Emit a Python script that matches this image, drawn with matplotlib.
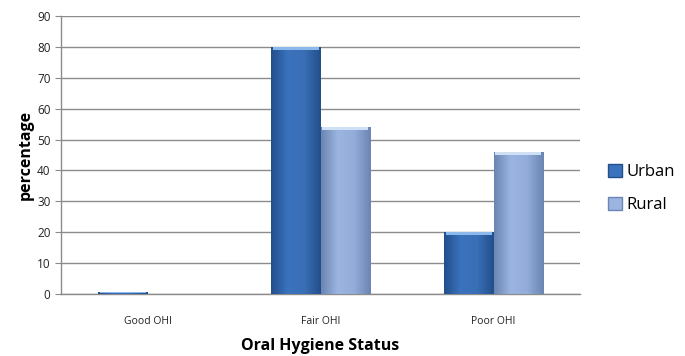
import numpy as np
import matplotlib.pyplot as plt
from matplotlib.colors import LinearSegmentedColormap
from matplotlib.patches import Patch

plt.rcParams['font.family'] = ['Open Sans', 'DejaVu Sans']

categories = ['Good OHI', 'Fair OHI', 'Poor OHI']
series = ['Urban', 'Rural']
urban = [0.8, 80, 20]
rural = [0, 54, 46]

bar_w = 0.285
x = np.arange(len(categories))

# edge-dark / centre-light shading for the bevelled bar look
shades = {
    'Urban': ['#234f8c', '#3a72bd', '#3a6fb6', '#234f8c'],
    'Rural': ['#6c86b3', '#9bb4e0', '#93acd9', '#6c86b3'],
}
top_col = {'Urban': '#8db8ec', 'Rural': '#cfdff4'}
base_col = {'Urban': '#2f62a6', 'Rural': '#8aa5d6'}

fig = plt.figure(figsize=(6.85, 3.56), dpi=100)
ax = fig.add_axes([0.089, 0.174, 0.758, 0.781])

ax.set_xlim(-0.5, 2.5)
ax.set_ylim(0, 90)
ax.set_yticks(range(0, 91, 10))
ax.yaxis.grid(True, color='#8c8c8c', linewidth=1.0)
ax.set_axisbelow(True)

for name, vals, off in [('Urban', urban, -bar_w / 2), ('Rural', rural, bar_w / 2)]:
    bars = ax.bar(x + off, vals, bar_w, color=base_col[name], linewidth=0, zorder=2)
    cmap = LinearSegmentedColormap.from_list(name, shades[name])
    grad = np.linspace(0, 1, 64).reshape(1, -1)
    for b in bars:
        h = b.get_height()
        if h <= 0:
            continue
        x0 = b.get_x()
        im = ax.imshow(grad, cmap=cmap, aspect='auto', zorder=3,
                       extent=[x0, x0 + bar_w, 0, h], interpolation='bicubic')
        im.set_clip_path(b)
        cap = min(1.0, h * 0.5)
        ax.add_patch(plt.Rectangle((x0 + 0.01, h - cap), bar_w - 0.02, cap,
                                   color=top_col[name], linewidth=0, zorder=4))

ax.set_xticks(x)
ax.set_xticklabels(categories, fontsize=7.5, color='#222222')
ax.tick_params(axis='x', length=0, pad=16)
ax.tick_params(axis='y', labelsize=8.5, length=4, color='#8c8c8c', labelcolor='#222222')

for s in ['top', 'right']:
    ax.spines[s].set_visible(False)
for s in ['left', 'bottom']:
    ax.spines[s].set_color('#8c8c8c')
    ax.spines[s].set_linewidth(1.0)

ax.set_ylabel('percentage', fontsize=11.5, fontweight='bold', labelpad=2)
ax.set_xlabel('Oral Hygiene Status', fontsize=11.5, fontweight='bold', labelpad=8)

handles = [Patch(facecolor=shades[s][1], edgecolor=shades[s][0]) for s in series]
fig.legend(handles, series, loc='center left', bbox_to_anchor=(0.866, 0.47),
           frameon=False, fontsize=12, handlelength=0.8, handleheight=0.8,
           handletextpad=0.3, labelspacing=1.0)

fig.savefig('out.png', dpi=100)
